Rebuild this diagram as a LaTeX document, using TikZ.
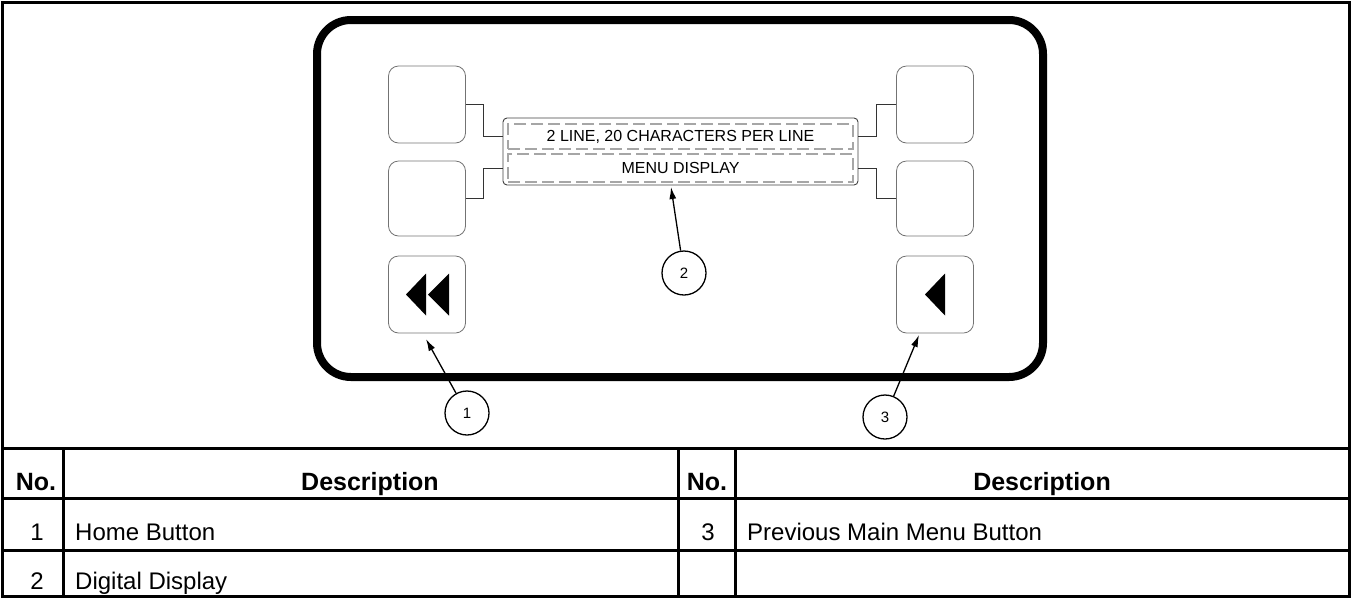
\documentclass[tikz,border=0pt]{standalone}
\usepackage{fontspec}
\setmainfont{Liberation Sans}
\usetikzlibrary{arrows.meta,positioning}
\tikzset{
  panelbox/.style={rectangle, rounded corners=34pt, draw=black, line width=8pt, minimum width=726pt, minimum height=357pt},
  keybox/.style={rectangle, rounded corners=10pt, draw=black!55, line width=0.8pt, minimum width=77pt, minimum height=77pt},
  lcdbox/.style={rectangle, rounded corners=4pt, draw=black!75, line width=0.9pt, minimum width=355pt, minimum height=67pt},
  lcdline/.style={rectangle, draw=black!35, dash pattern=on 12pt off 5pt, line width=1.2pt, minimum width=345pt, inner sep=0pt, font=\fontsize{16}{19}\selectfont},
  keylink/.style={draw=black!80, line width=0.8pt},
  callout/.style={circle, draw, line width=1.3pt, minimum size=44pt, inner sep=0pt, font=\fontsize{15}{17}\selectfont},
  carrow/.style={-{Latex[length=12pt,width=7pt]}, line width=1.3pt},
  tline/.style={line width=3pt},
  thead/.style={anchor=base, inner sep=0pt, font=\bfseries\fontsize{25}{30}\selectfont},
  tcell/.style={anchor=base, inner sep=0pt, font=\fontsize{24}{29}\selectfont},
  tdesc/.style={tcell, anchor=base west}
}

\begin{document}
\begin{tikzpicture}[x=1pt, y=-1pt]
\useasboundingbox (0,0) rectangle (1351,598);
% frame and table rules
\draw[tline] (2,2) rectangle (1349,596);
\draw[tline] (2,448) -- (1349,448);
\draw[tline] (2,498) -- (1349,498);
\draw[tline] (2,550) -- (1349,550);
\draw[tline] (63,448) -- (63,596);
\draw[tline] (678,448) -- (678,596);
\draw[tline] (735,448) -- (735,596);

% keypad panel
\node[panelbox] (panel) at (680,198.5) {};
\node[keybox] (kl1) at (427,104.5) {};
\node[keybox, minimum height=75pt] (kl2) at (427,198.5) {};
\node[keybox] (kl3) at (427,294.5) {};
\node[keybox] (kr1) at (935,104.5) {};
\node[keybox, minimum height=75pt] (kr2) at (935,198.5) {};
\node[keybox] (kr3) at (935,294.5) {};

% display
\node[lcdbox] (lcd) at (680.5,151.5) {};
\node[lcdline, minimum height=25pt] (row1) at (680.5,136.5) {2 LINE, 20 CHARACTERS PER LINE};
\node[lcdline, minimum height=28pt] (row2) at (680.5,168) {MENU DISPLAY};
\draw[keylink] (kl1.east) -- ++(17,0) |- (lcd.west |- row1);
\draw[keylink] (kl2.east) -- ++(17,0) |- (lcd.west |- row2);
\draw[keylink] (kr1.west) -- ++(-20,0) |- (lcd.east |- row1);
\draw[keylink] (kr2.west) -- ++(-20,0) |- (lcd.east |- row2);

% key symbols
\fill ([xshift=-21pt]kl3.center) -- ++(20,-21) -- ++(0,42) -- cycle;
\fill ([xshift=1pt]kl3.center) -- ++(21,-21) -- ++(0,42) -- cycle;
\fill ([xshift=-10pt]kr3.center) -- ++(20,-21) -- ++(0,42) -- cycle;

% callouts
\node[callout] (c1) at (467,413) {1};
\node[callout] (c2) at (684,273) {2};
\node[callout] (c3) at (885,417) {3};
\coordinate (t1) at (426,339);
\coordinate (t2) at (671,187);
\coordinate (t3) at (919,335);
\draw[carrow] (c1) -- (t1);
\draw[carrow] (c2) -- (t2);
\draw[carrow] (c3) -- (t3);

% table text
\node[thead] (h1) at (36,490) {No.};
\node[thead] (h2) at (370,490) {Description};
\node[thead] (h3) at (707,490) {No.};
\node[thead] (h4) at (1042,490) {Description};
\node[tcell] (n1) at (37,540) {1};
\node[tdesc] (d1) at (75,540) {Home Button};
\node[tcell] (n3) at (708,540) {3};
\node[tdesc] (d3) at (747,540) {Previous Main Menu Button};
\node[tcell] (n2) at (37,589) {2};
\node[tdesc] (d2) at (75,589) {Digital Display};
\end{tikzpicture}
\end{document}
